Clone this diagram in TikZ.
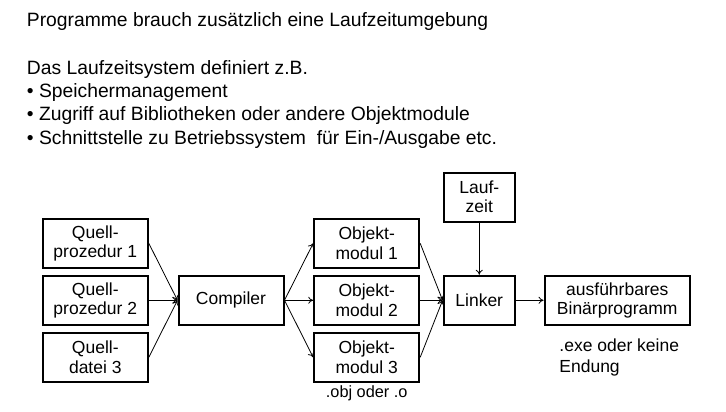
\documentclass[tikz,border=0pt]{standalone}
\usepackage{fontspec}
\setmainfont{Liberation Sans}
\usetikzlibrary{positioning,arrows.meta}
\tikzset{node distance=28.7pt, auto,
  box/.style={draw, line width=2pt, minimum width=105pt, minimum height=49pt,
    inner sep=0pt, align=center, font=\fontsize{17.5}{19.2}\selectfont},
  pfeil/.style={-{To[length=5pt,width=7pt]}, line width=0.8pt},
  txt/.style={inner sep=0pt, align=left, font=\fontsize{19.3}{23.3}\selectfont}}

\begin{document}
\begin{tikzpicture}[x=1pt, y=-1pt]
                \useasboundingbox (0,0) rectangle (726,412);
                \node (T) [txt, anchor=base west] at (26.7,26.7) {Programme brauch zusätzlich eine Laufzeitumgebung};
                \node (S) [txt, anchor=north west] at (26.7,60) {Das Laufzeitsystem definiert z.B.\\• Speichermanagement\\• Zugriff auf Bibliotheken oder andere Objektmodule\\• Schnittstelle zu Betriebssystem~ für Ein-/Ausgabe etc.};
                \node (Q2) [box] at (95.3,300.3) {Quell-\\prozedur 2};
                \node (Q1) [box, above=6pt of Q2] {Quell-\\prozedur 1};
                \node (Q3) [box, below=6pt of Q2] {Quell-\\datei 3};
                \node (C)  [box, right=of Q2] {Compiler};
                \node (O2) [box, right=of C] {Objekt-\\modul 2};
                \node (O1) [box, above=6pt of O2] {Objekt-\\modul 1};
                \node (O3) [box, below=6pt of O2] {Objekt-\\modul 3};
                \node (L)  [box, minimum width=71.3pt, right=22.4pt of O2] {Linker};
                \node (LZ) [box, minimum width=71.3pt, above=52.3pt of L] {Lauf-\\zeit};
                \node (B)  [box, minimum width=145.3pt, right=27.7pt of L] {ausführbares\\Binärprogramm};
                \node (OBJ) [txt, font=\fontsize{16.3}{18}\selectfont, anchor=base] at ([yshift=-15pt]O3.south) {.obj oder .o};
                \node (EXE) [txt, font=\fontsize{17.5}{21}\selectfont, anchor=north west] at ([xshift=15.6pt, yshift=-13pt]B.south west) {.exe oder keine\\Endung};
                \draw[pfeil] (Q1.east) -- (C.west);
                \draw[pfeil] (Q2.east) -- (C.west);
                \draw[pfeil] (Q3.east) -- (C.west);
                \draw[pfeil] (C.east) -- (O1.west);
                \draw[pfeil] (C.east) -- (O2.west);
                \draw[pfeil] (C.east) -- (O3.west);
                \draw[pfeil] (O1.east) -- (L.west);
                \draw[pfeil] (O2.east) -- (L.west);
                \draw[pfeil] (O3.east) -- (L.west);
                \draw[pfeil] (LZ) -- (L);
                \draw[pfeil] (L) -- (B);
              \end{tikzpicture}
\end{document}
